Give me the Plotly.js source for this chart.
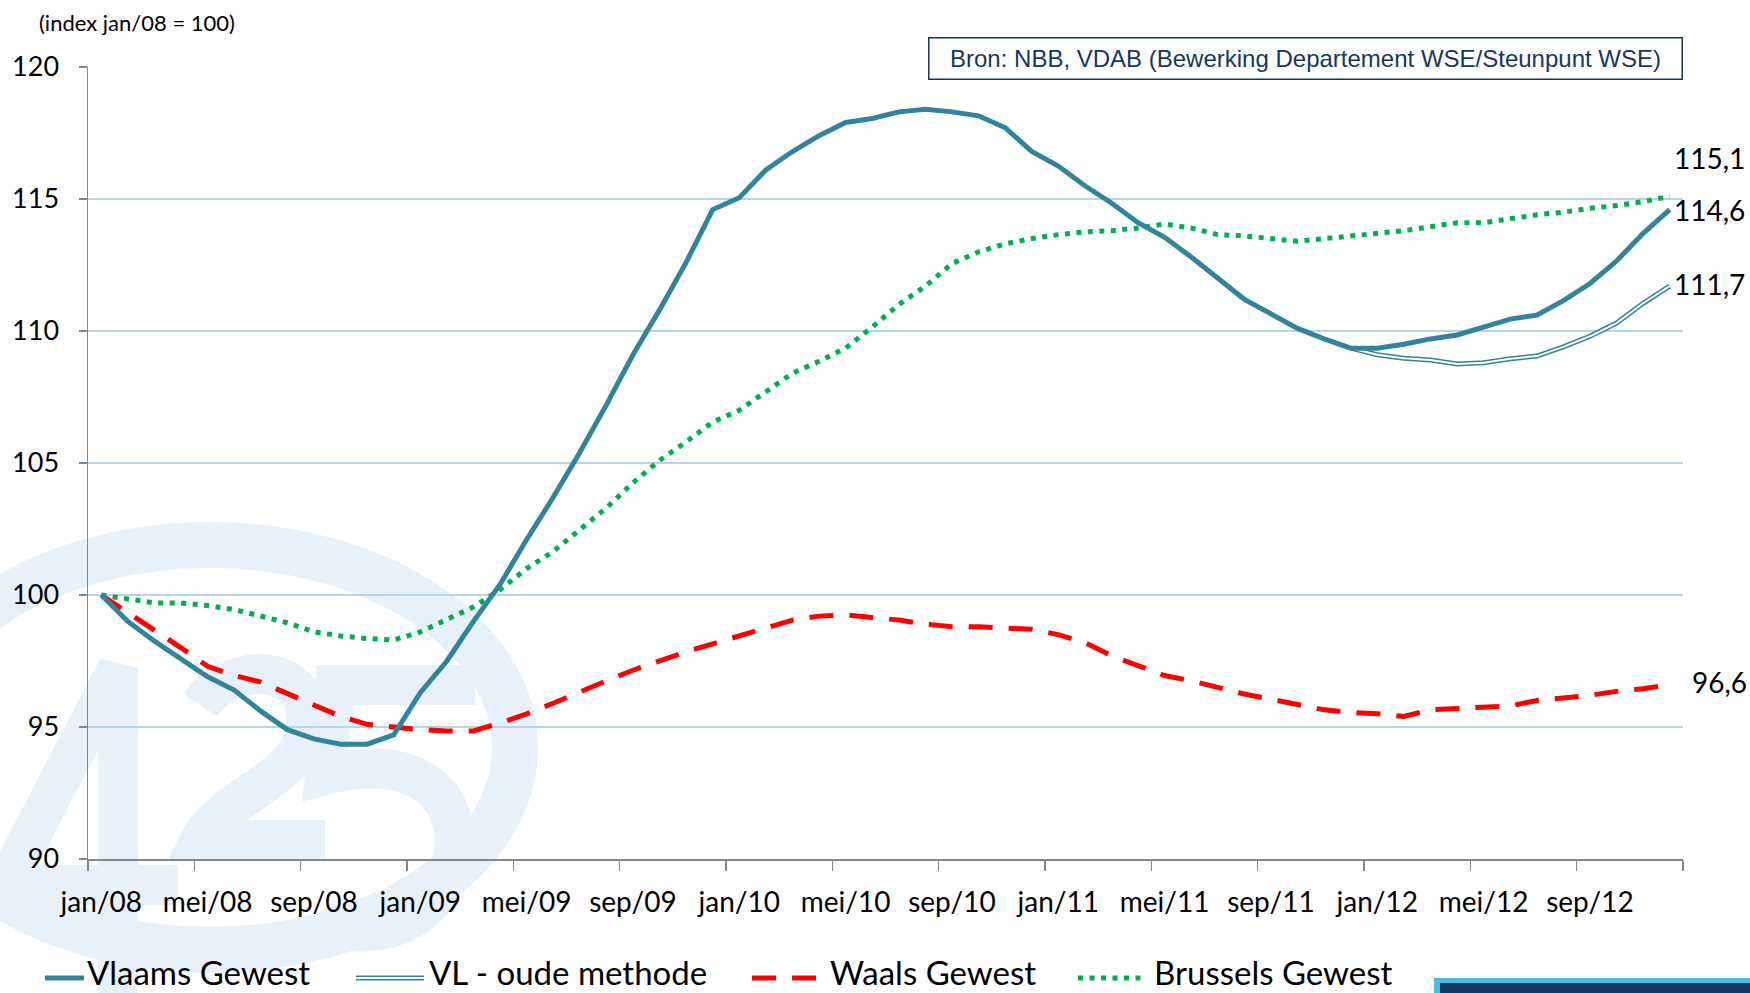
<!DOCTYPE html>
<html>
<head>
<meta charset="utf-8">
<script src="https://cdn.plot.ly/plotly-3.0.1.min.js"></script>
<style>html,body{margin:0;padding:0;background:#fff;}#chart{width:1750px;height:993px;}</style>
</head>
<body>
<div id="chart"></div>
<script>
const monthNames = ['jan','feb','mrt','apr','mei','jun','jul','aug','sep','okt','nov','dec'];
const years = ['08','09','10','11','12'];
const months = [];
years.forEach(y => monthNames.forEach(m => months.push(m + '/' + y)));

const vlaams = [100.0, 99.0, 98.25, 97.6, 96.9, 96.4, 95.6, 94.9, 94.55, 94.35, 94.35, 94.7,
  96.3, 97.5, 99.0, 100.4, 102.1, 103.7, 105.4, 107.2, 109.1, 110.8, 112.6, 114.6,
  115.05, 116.1, 116.8, 117.4, 117.9, 118.05, 118.3, 118.4, 118.3, 118.15, 117.7, 116.8,
  116.25, 115.5, 114.85, 114.1, 113.55, 112.8, 112.0, 111.2, 110.65, 110.1, 109.7, 109.35,
  109.35, 109.5, 109.7, 109.85, 110.15, 110.45, 110.6, 111.15, 111.8, 112.65, 113.7, 114.6];

const vlOud = [null, null, null, null, null, null, null, null, null, null, null, null,
  null, null, null, null, null, null, null, null, null, null, null, null,
  null, null, null, null, null, null, null, null, null, null, null, null,
  null, null, null, null, null, null, null, null, null, null, null, 109.35,
  109.1, 108.97, 108.9, 108.75, 108.8, 108.95, 109.05, 109.4, 109.8, 110.3, 111.05, 111.7];

const waals = [100.0, 99.35, 98.7, 98.0, 97.3, 96.95, 96.7, 96.25, 95.85, 95.4, 95.1, 95.0,
  94.9, 94.85, 94.85, 95.15, 95.5, 95.9, 96.35, 96.75, 97.15, 97.5, 97.85, 98.15,
  98.45, 98.75, 99.05, 99.2, 99.25, 99.15, 99.05, 98.9, 98.8, 98.8, 98.75, 98.7,
  98.5, 98.2, 97.7, 97.3, 96.95, 96.75, 96.5, 96.25, 96.05, 95.85, 95.65, 95.55,
  95.5, 95.4, 95.65, 95.7, 95.75, 95.8, 96.0, 96.1, 96.2, 96.35, 96.45, 96.6];

const brussel = [100.0, 99.85, 99.7, 99.7, 99.6, 99.45, 99.2, 98.95, 98.6, 98.45, 98.35, 98.3,
  98.6, 99.05, 99.55, 100.2, 101.0, 101.65, 102.45, 103.3, 104.25, 105.1, 105.8, 106.55,
  107.0, 107.7, 108.4, 108.85, 109.35, 110.15, 111.0, 111.7, 112.55, 113.0, 113.3, 113.5,
  113.65, 113.75, 113.8, 113.9, 114.05, 113.9, 113.65, 113.6, 113.5, 113.4, 113.5, 113.6,
  113.7, 113.8, 113.95, 114.1, 114.1, 114.25, 114.4, 114.5, 114.65, 114.75, 114.9, 115.1];

const seriesNames = ['Vlaams Gewest', 'VL - oude methode', 'Waals Gewest', 'Brussels Gewest'];
const endLabels = ['114,6', '111,7', '96,6', '115,1'];
const yTicks = [90, 95, 100, 105, 110, 115, 120];
const sourceText = 'Bron: NBB, VDAB (Bewerking Departement WSE/Steunpunt WSE)';
const unitText = '(index jan/08 = 100)';

const TEAL = '#31849B', RED = '#FF0000', GREEN = '#00B050';
const FONT = 'Lato, "Open Sans", sans-serif';
const DASH_RED = '24px,16px';
const DOT_GREEN = '5px,6.5px';
const WM = '#E8F1FA';

const traces = [
  {x: months, y: waals, type: 'scatter', mode: 'lines', name: seriesNames[2],
   line: {color: RED, width: 5, dash: DASH_RED}, showlegend: false, hoverinfo: 'skip'},
  {x: months, y: brussel, type: 'scatter', mode: 'lines', name: seriesNames[3],
   line: {color: GREEN, width: 5, dash: DOT_GREEN}, showlegend: false, hoverinfo: 'skip'},
  {x: months, y: vlOud, type: 'scatter', mode: 'lines', name: seriesNames[1],
   line: {color: TEAL, width: 5}, showlegend: false, hoverinfo: 'skip'},
  {x: months, y: vlOud, type: 'scatter', mode: 'lines', name: seriesNames[1] + ' (binnen)',
   line: {color: '#FFFFFF', width: 2}, showlegend: false, hoverinfo: 'skip'},
  {x: months, y: vlaams, type: 'scatter', mode: 'lines', name: seriesNames[0],
   line: {color: TEAL, width: 5}, showlegend: false, hoverinfo: 'skip'}
];

// plot area in pixels
const L = 88, R = 1683, T = 67, B = 859;
const px2x = p => (p - L) / (R - L);
const px2y = p => (B - p) / (B - T);
const pathPx = (cmds) => cmds.map(c => c[0] + ' ' + c.slice(1).map((v, k) => k % 2 === 0 ? px2x(v).toFixed(5) : px2y(v).toFixed(5)).join(',')).join(' ');

const last = months.length - 1;
const endFont = {family: FONT, size: 28, color: '#000'};
const annotations = [
  {x: months[last], y: vlaams[last], xref: 'x', yref: 'y', text: endLabels[0], showarrow: false,
   xanchor: 'left', yanchor: 'middle', xshift: 2, yshift: 0, font: endFont},
  {x: months[last], y: vlOud[last], xref: 'x', yref: 'y', text: endLabels[1], showarrow: false,
   xanchor: 'left', yanchor: 'middle', xshift: 2, yshift: 2, font: endFont},
  {x: months[last], y: waals[last], xref: 'x', yref: 'y', text: endLabels[2], showarrow: false,
   xanchor: 'left', yanchor: 'middle', xshift: 20, yshift: 3, font: endFont},
  {x: months[last], y: brussel[last], xref: 'x', yref: 'y', text: endLabels[3], showarrow: false,
   xanchor: 'left', yanchor: 'middle', xshift: 2, yshift: 38, font: endFont},
  {x: px2x(37), y: px2y(23), xref: 'paper', yref: 'paper', text: unitText, showarrow: false,
   xanchor: 'left', yanchor: 'middle', font: {family: FONT, size: 22, color: '#000'}},
  {x: px2x(1305), y: px2y(59), xref: 'paper', yref: 'paper', text: sourceText, showarrow: false,
   xanchor: 'center', yanchor: 'middle', width: 752, height: 40, align: 'center',
   bgcolor: '#FFFFFF', bordercolor: '#17375E', borderwidth: 1.5, borderpad: 0,
   font: {family: '"Liberation Sans", Arial, sans-serif', size: 24, color: '#17375E'}}
];

const shapes = [];
// faint watermark logo (ring + digits) behind the plot
shapes.push({type: 'circle', xref: 'paper', yref: 'paper', layer: 'below',
  x0: px2x(-95), x1: px2x(515), y0: px2y(545), y1: px2y(950),
  line: {color: WM, width: 46}, fillcolor: 'rgba(0,0,0,0)'});
const wmPaths = [
  [['M', 5, 885], ['L', 118, 668], ['L', 118, 993]],
  [['M', -10, 885], ['L', 178, 885]],
  [['M', 200, 705], ['C', 230, 660, 320, 660, 305, 735], ['C', 295, 780, 220, 800, 200, 840], ['L', 325, 840]],
  [['M', 475, 685], ['L', 335, 685], ['L', 325, 775], ['C', 420, 750, 470, 800, 450, 870], ['C', 430, 930, 360, 945, 320, 920]]
];
wmPaths.forEach(p => shapes.push({type: 'path', xref: 'paper', yref: 'paper', layer: 'below',
  path: pathPx(p), line: {color: WM, width: 40}, fillcolor: 'rgba(0,0,0,0)'}));

// custom legend (symbols + text)
const legY = px2y(972);
const legItems = [
  {x0: 45, x1: 84, tx: 85, kind: 'solid'},
  {x0: 356, x1: 424, tx: 427, kind: 'double'},
  {x0: 752, x1: 822, tx: 828, kind: 'dash'},
  {x0: 1078, x1: 1146, tx: 1152, kind: 'dot'}
];
legItems.forEach((it, i) => {
  const base = {type: 'line', xref: 'paper', yref: 'paper', x0: px2x(it.x0), x1: px2x(it.x1), y0: px2y(978), y1: px2y(978)};
  if (it.kind === 'solid') shapes.push(Object.assign({}, base, {line: {color: TEAL, width: 5}}));
  if (it.kind === 'double') {
    shapes.push(Object.assign({}, base, {line: {color: TEAL, width: 5}}));
    shapes.push(Object.assign({}, base, {line: {color: '#FFFFFF', width: 2}}));
  }
  if (it.kind === 'dash') shapes.push(Object.assign({}, base, {line: {color: RED, width: 5, dash: DASH_RED}}));
  if (it.kind === 'dot') shapes.push(Object.assign({}, base, {line: {color: GREEN, width: 5, dash: DOT_GREEN}}));
  annotations.push({x: px2x(it.tx), y: legY, xref: 'paper', yref: 'paper', text: seriesNames[i], showarrow: false,
    xanchor: 'left', yanchor: 'middle', font: {family: FONT, size: 33, color: '#000'}});
});
// corner bar bottom-right
shapes.push({type: 'rect', xref: 'paper', yref: 'paper', x0: px2x(1434), x1: px2x(1752), y0: px2y(994), y1: px2y(978),
  fillcolor: '#4FB9E9', line: {width: 0}, layer: 'above'});
shapes.push({type: 'rect', xref: 'paper', yref: 'paper', x0: px2x(1440), x1: px2x(1752), y0: px2y(994), y1: px2y(983),
  fillcolor: '#17375E', line: {width: 0}, layer: 'above'});

const layout = {
  width: 1750, height: 993,
  margin: {l: L, r: 1750 - R, t: T, b: 993 - B, pad: 0},
  paper_bgcolor: '#FFFFFF', plot_bgcolor: 'rgba(0,0,0,0)',
  showlegend: false,
  xaxis: {
    type: 'category', range: [-0.5, months.length - 0.5], tickmode: 'linear', tick0: 0, dtick: 4,
    tickson: 'boundaries', ticks: 'outside', ticklen: 10, tickwidth: 1.5, tickcolor: '#868686',
    showline: true, linecolor: '#868686', linewidth: 1.5, showgrid: false, zeroline: false,
    tickangle: 0, automargin: false,
    tickfont: {family: FONT, size: 28, color: '#000'}, ticklabelstandoff: 18, fixedrange: true
  },
  yaxis: {
    range: [90, 120], tickmode: 'array', tickvals: yTicks, ticktext: yTicks.map(String),
    ticks: 'outside', ticklen: 8, tickwidth: 1.5, tickcolor: '#868686',
    showline: true, linecolor: '#868686', linewidth: 1.5, automargin: false,
    showgrid: true, gridcolor: '#B8D4EA', gridwidth: 1.5, zeroline: false,
    tickfont: {family: FONT, size: 27, color: '#000'}, ticklabelstandoff: 14, fixedrange: true
  },
  annotations: annotations,
  shapes: shapes
};

Plotly.newPlot('chart', traces, layout, {displayModeBar: false, staticPlot: true});
</script>
</body>
</html>
